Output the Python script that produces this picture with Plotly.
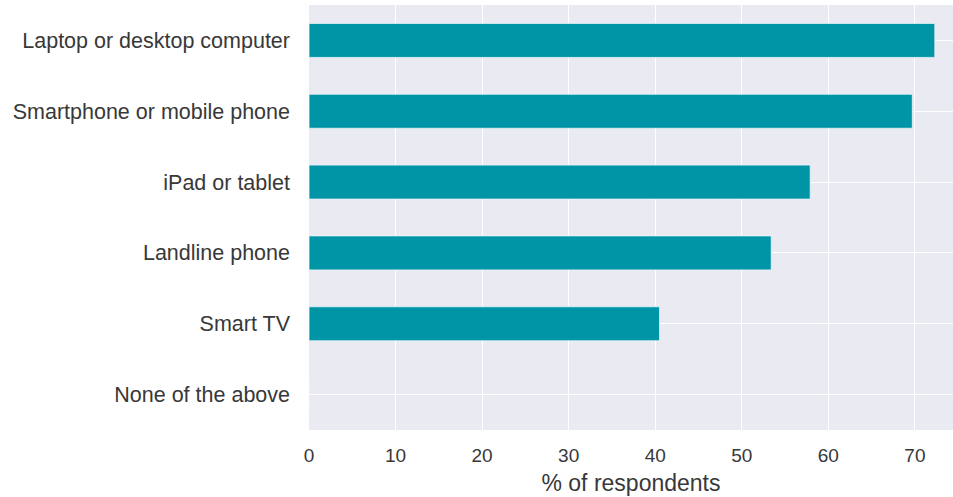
import plotly.graph_objects as go

categories = ["Laptop or desktop computer", "Smartphone or mobile phone", "iPad or tablet",
              "Landline phone", "Smart TV", "None of the above"]
values = [72.3, 69.7, 57.9, 53.4, 40.5, 0.0]
x_ticks = [0, 10, 20, 30, 40, 50, 60, 70]

fig = go.Figure(go.Bar(
    y=categories, x=values, orientation="h", width=0.48,
    marker=dict(color="#0094A7", line=dict(color="#e8f4f6", width=0.8)),
))
fig.update_layout(
    width=953, height=497,
    margin=dict(l=309, r=0, t=5, b=67),
    paper_bgcolor="white", plot_bgcolor="#EAEAF2",
    font=dict(family="Liberation Sans, Arial, sans-serif", size=21, color="#383838"),
    showlegend=False,
)
fig.update_xaxes(range=[0, 74.4], tickvals=x_ticks, showgrid=True, gridcolor="white", gridwidth=1.3,
                 zeroline=False, ticks="", tickfont=dict(size=19),
                 title=dict(text="% of respondents", standoff=9, font=dict(size=23)),
                 showline=False, ticklabelstandoff=12)
fig.update_yaxes(categoryorder="array", categoryarray=categories[::-1], showgrid=True,
                 gridcolor="white", gridwidth=1.3, ticks="", ticklabelstandoff=18,
                 range=[-0.5, 5.5], tickfont=dict(size=21.5))
fig.write_html("out.html", config={"displayModeBar": False},
               post_script="document.body.style.margin='0';document.body.style.overflow='hidden';")
